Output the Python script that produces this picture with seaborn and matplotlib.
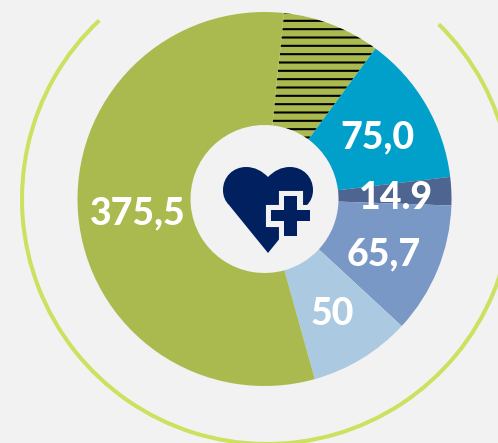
import matplotlib.pyplot as plt
import seaborn as sns
from matplotlib.patches import Arc, PathPatch
from matplotlib.path import Path

BG = '#F2F2F2'
NAVY = '#002060'
H = 443

# printed labels and the sweep of each slice (slices are not to scale)
labels = ['', '75,0', '14.9', '65,7', '50', '375,5']
sweep_deg = [30.4, 46.8, 8.8, 40.8, 31.6, 201.6]
colors = ['#ABBA4F', '#00A0CB', '#4F6591', '#7A98C5', '#ABCAE2', '#ABBA4F']
label_x = [0, 377, 396, 384, 332, 138]
label_y = [0, 137, 198, 254, 314, 213]

sns.set_theme(style='white', rc={'figure.facecolor': BG, 'axes.facecolor': BG, 'hatch.linewidth': 1.5})
plt.rcParams['font.family'] = ['Lato', 'DejaVu Sans']

fig, ax = plt.subplots(figsize=(4.98, 4.43), dpi=100)
fig.subplots_adjust(0, 0, 1, 1)

wedges, _ = ax.pie(sweep_deg, colors=sns.color_palette(colors), center=(264.5, H - 199), radius=187,
                   startangle=84, counterclock=False, wedgeprops={'width': 113, 'linewidth': 0})
wedges[0].set_hatch('--')
wedges[0].set_edgecolor('black')

ax.add_patch(Arc((267, H - 199), 490, 490, theta1=133.2, theta2=360 + 45.5, color='#CEE05F', lw=2.9))

for lab, x, y in zip(labels, label_x, label_y):
    ax.text(x, H - y, lab, color='white', fontsize=27, fontweight='black', ha='center', va='center')

# heart icon
heart_pts = [(268, 177), (262, 171), (255, 167), (246, 167), (233, 167), (223, 177), (223, 190), (223, 196),
             (225, 201), (229, 205), (268, 253), (307, 205), (311, 201), (313, 196), (313, 190), (313, 177),
             (303, 167), (290, 167), (281, 167), (274, 171), (268, 177), (268, 177)]
heart_codes = [Path.MOVETO, Path.CURVE4, Path.CURVE4, Path.CURVE4, Path.CURVE4, Path.CURVE4, Path.CURVE4,
               Path.CURVE4, Path.CURVE4, Path.CURVE4, Path.LINETO, Path.LINETO, Path.CURVE4, Path.CURVE4,
               Path.CURVE4, Path.CURVE4, Path.CURVE4, Path.CURVE4, Path.CURVE4, Path.CURVE4, Path.CURVE4,
               Path.CLOSEPOLY]
heart = Path([(x, H - y) for x, y in heart_pts], heart_codes)
ax.add_patch(PathPatch(heart, fc=NAVY, ec='none'))

cross_pts = [(284, 196), (297, 196), (297, 210), (310, 210), (310, 221), (297, 221), (297, 236), (284, 236),
             (284, 221), (271, 221), (271, 210), (284, 210), (284, 196)]
cross = Path([(x, H - y) for x, y in cross_pts], closed=True)
ax.add_patch(PathPatch(cross, fc=BG, ec=BG, lw=8, joinstyle='miter'))
ax.add_patch(PathPatch(cross, fc=NAVY, ec='none'))

ax.set_xlim(0, 498)
ax.set_ylim(0, H)
ax.set_aspect('equal')
ax.axis('off')
fig.savefig('out.png', dpi=100, facecolor=BG)
